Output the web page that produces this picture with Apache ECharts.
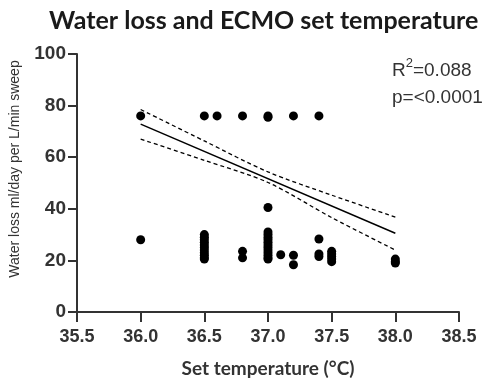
<!DOCTYPE html>
<html>
<head>
<meta charset="utf-8">
<script src="https://cdn.jsdelivr.net/npm/echarts@6/dist/echarts.min.js"></script>
<style>
  html, body { margin: 0; padding: 0; background: #fff; }
  #chart { width: 487px; height: 383px; }
</style>
</head>
<body>
<div id="chart"></div>
<script>
// scatter points: set temperature (°C) and water loss (ml/day per L/min sweep)
const setTemp = [
  36.0, 36.0,
  36.5, 36.5, 36.5, 36.5, 36.5, 36.5, 36.5, 36.5, 36.5, 36.5, 36.5, 36.5,
  36.6,
  36.8, 36.8, 36.8,
  37.0, 37.0, 37.0, 37.0, 37.0, 37.0, 37.0, 37.0, 37.0, 37.0, 37.0, 37.0, 37.0, 37.0, 37.0,
  37.1,
  37.2, 37.2, 37.2,
  37.4, 37.4, 37.4, 37.4,
  37.5, 37.5, 37.5, 37.5, 37.5,
  38.0, 38.0, 38.0
];
const waterLoss = [
  76, 28,
  76, 30, 29, 28, 27, 26, 25, 24, 23, 22, 21, 20.5,
  76,
  76, 23.5, 21,
  76, 75.5, 40.5, 31, 30, 29, 28, 27, 26, 25, 24, 23, 22, 21, 20.5,
  22.2,
  76, 22, 18.3,
  76, 28.3, 22.5, 21.5,
  23.5, 22.5, 21.5, 20.5, 19.5,
  20.5, 19.5, 19
];

// regression line and 95% band
const fitTemp = [36.0, 38.0];
const fitLoss = [72.8, 30.5];
const bandTemp = [36.0, 36.5, 37.0, 37.5, 38.0];
const bandUpper = [78.5, 66.3, 54.3, 45.3, 36.8];
const bandLower = [67.0, 58.8, 50.2, 36.6, 24.0];

const xTicks = [35.5, 36.0, 36.5, 37.0, 37.5, 38.0, 38.5];
const yTicks = [0, 20, 40, 60, 80, 100];

const zip = (xs, ys) => xs.map((x, i) => [x, ys[i]]);

const chart = echarts.init(document.getElementById('chart'));

const axisColor = '#333';
const labelFont = '"Liberation Sans", Arial, sans-serif';

chart.setOption({
  animation: false,
  title: [
    {
      text: 'Water loss and ECMO set temperature',
      left: 44,
      top: 3,
      textStyle: {
        fontFamily: 'Lato, sans-serif',
        fontWeight: 'bold',
        fontSize: 25,
        color: '#1a1a1a'
      }
    },
    {
      text: 'R{sup|2}=0.088\np=<0.0001',
      left: 387,
      top: 52,
      textStyle: {
        fontFamily: labelFont,
        fontWeight: 'normal',
        fontSize: 19,
        color: '#333',
        lineHeight: 27,
        rich: {
          sup: {
            fontFamily: labelFont,
            fontWeight: 'normal',
            fontSize: 13,
            color: '#333',
            verticalAlign: 'top',
            padding: [0, 0, 8, 0]
          }
        }
      }
    }
  ],
  grid: {
    left: 72,
    right: 28,
    top: 54,
    bottom: 71
  },
  xAxis: {
    type: 'value',
    min: xTicks[0],
    max: xTicks[xTicks.length - 1],
    interval: 0.5,
    name: 'Set temperature (°C)',
    nameLocation: 'middle',
    nameGap: 47,
    nameTextStyle: {
      fontFamily: 'Lato, sans-serif',
      fontWeight: 'bold',
      fontSize: 19,
      color: '#333'
    },
    axisLine: { lineStyle: { color: axisColor, width: 2 } },
    axisTick: { length: 10, lineStyle: { color: axisColor, width: 2 } },
    axisLabel: {
      margin: 16,
      fontFamily: labelFont,
      fontWeight: 'bold',
      fontSize: 18,
      color: '#333',
      formatter: v => v.toFixed(1)
    },
    splitLine: { show: false }
  },
  yAxis: {
    type: 'value',
    min: yTicks[0],
    max: yTicks[yTicks.length - 1],
    interval: 20,
    name: 'Water loss ml/day per L/min sweep',
    nameLocation: 'middle',
    nameGap: 55,
    nameTextStyle: {
      fontFamily: labelFont,
      fontSize: 14,
      color: '#333',
      padding: [0, 0, 0, 28]
    },
    axisLine: { show: true, lineStyle: { color: axisColor, width: 2 } },
    axisTick: { show: true, length: 9, lineStyle: { color: axisColor, width: 2 } },
    axisLabel: {
      margin: 11,
      fontFamily: labelFont,
      fontWeight: 'bold',
      fontSize: 19,
      color: '#333'
    },
    splitLine: { show: false }
  },
  series: [
    {
      type: 'scatter',
      data: zip(setTemp, waterLoss),
      symbolSize: 9,
      itemStyle: { color: '#000', opacity: 1 }
    },
    {
      type: 'line',
      data: zip(fitTemp, fitLoss),
      showSymbol: false,
      lineStyle: { color: '#000', width: 1.5 }
    },
    {
      type: 'line',
      data: zip(bandTemp, bandUpper),
      showSymbol: false,
      smooth: 0.3,
      lineStyle: { color: '#000', width: 1.3, type: [4, 3] }
    },
    {
      type: 'line',
      data: zip(bandTemp, bandLower),
      showSymbol: false,
      smooth: 0.3,
      lineStyle: { color: '#000', width: 1.3, type: [4, 3] }
    }
  ]
});
</script>
</body>
</html>
